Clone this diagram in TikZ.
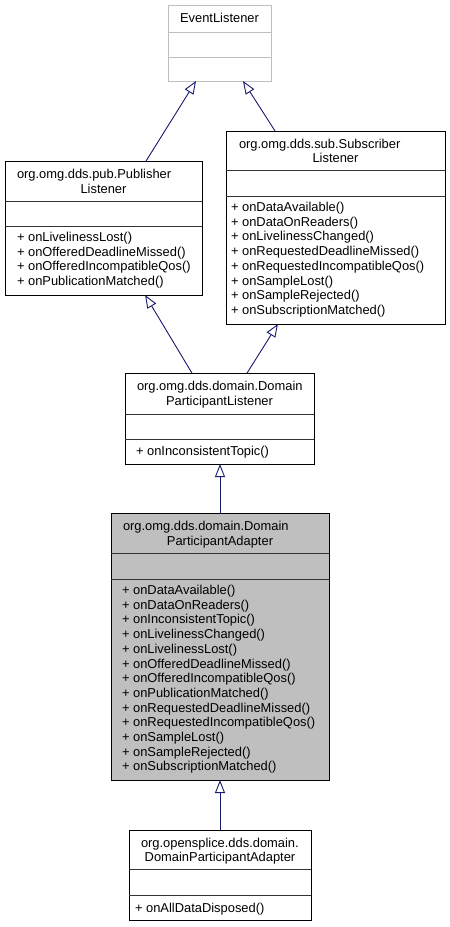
\documentclass[tikz,border=0pt]{standalone}
\usepackage{fontspec}
\setmainfont{Liberation Sans}
\usetikzlibrary{arrows.meta,calc}
\definecolor{edgeblue}{HTML}{191970}
\definecolor{greyseventyfive}{HTML}{BFBFBF}
\begin{document}
\begin{tikzpicture}[x=1pt,y=-1pt,
  box/.style={draw=black,line width=0.9pt,inner sep=0pt,outer sep=0pt,anchor=north west},
  extbox/.style={box,draw=greyseventyfive},
  sepline/.style={draw=black!80,line width=0.9pt},
  extsep/.style={draw=greyseventyfive,line width=0.9pt},
  ttxt/.style={font=\fontsize{12.9}{14.7}\selectfont,inner sep=0pt,outer sep=0pt},
  lt/.style={ttxt,anchor=base west},
  ct/.style={ttxt,anchor=base},
  inh/.style={draw=edgeblue,line width=0.9pt,-{Triangle[length=13pt,width=10pt,fill=white]}}]
\useasboundingbox (0,0) rectangle (450,927);
\fill[white] (0,0) rectangle (450,927);

% EventListener
\node[extbox,minimum width=103pt,minimum height=76pt] (el) at (168,5) {};
\draw[extsep] (168,32) -- (271,32);
\draw[extsep] (168,57) -- (271,57);
\node[ct] (elt) at (219.5,22) {EventListener};

% Publisher Listener
\node[box,minimum width=197pt,minimum height=134pt] (pub) at (5,161) {};
\draw[sepline] (5,201) -- (202,201);
\draw[sepline] (5,226) -- (202,226);
\node[lt] (pubt1) at (17,178) {org.omg.dds.pub.Publisher};
\node[ct] (pubt2) at (103.5,193) {Listener};
\foreach \t [count=\i from 0] in {onLivelinessLost(),onOfferedDeadlineMissed(),onOfferedIncompatibleQos(),onPublicationMatched()}
  \node[lt,name=pubm\i] at (17,241.5+14.7*\i) {+ \t};

% Subscriber Listener
\node[box,minimum width=219pt,minimum height=193pt] (sub) at (226,131) {};
\draw[sepline] (226,170) -- (445,170);
\draw[sepline] (226,196) -- (445,196);
\node[lt] (subt1) at (239,148) {org.omg.dds.sub.Subscriber};
\node[ct] (subt2) at (335.5,162.5) {Listener};
\foreach \t [count=\i from 0] in {onDataAvailable(),onDataOnReaders(),onLivelinessChanged(),onRequestedDeadlineMissed(),onRequestedIncompatibleQos(),onSampleLost(),onSampleRejected(),onSubscriptionMatched()}
  \node[lt,name=subm\i] at (231,211.5+14.7*\i) {+ \t};

% DomainParticipantListener
\node[box,minimum width=189pt,minimum height=91pt] (dpl) at (125,373) {};
\draw[sepline] (125,414) -- (314,414);
\draw[sepline] (125,439) -- (314,439);
\node[lt] (dplt1) at (137,390) {org.omg.dds.domain.Domain};
\node[ct] (dplt2) at (219.5,405) {ParticipantListener};
\node[lt] (dplm0) at (136,455) {+ onInconsistentTopic()};

% DomainParticipantAdapter (omg)
\node[box,fill=greyseventyfive,minimum width=218pt,minimum height=267pt] (adp) at (111,513) {};
\draw[sepline] (111,553) -- (329,553);
\draw[sepline] (111,579) -- (329,579);
\node[lt] (adpt1) at (123,530) {org.omg.dds.domain.Domain};
\node[ct] (adpt2) at (220,545) {ParticipantAdapter};
\foreach \t [count=\i from 0] in {onDataAvailable(),onDataOnReaders(),onInconsistentTopic(),onLivelinessChanged(),onLivelinessLost(),onOfferedDeadlineMissed(),onOfferedIncompatibleQos(),onPublicationMatched(),onRequestedDeadlineMissed(),onRequestedIncompatibleQos(),onSampleLost(),onSampleRejected(),onSubscriptionMatched()}
  \node[lt,name=adpm\i] at (122,594.5+14.7*\i) {+ \t};

% DomainParticipantAdapter (opensplice)
\node[box,minimum width=182pt,minimum height=90pt] (bot) at (129,830) {};
\draw[sepline] (129,869) -- (311,869);
\draw[sepline] (129,895) -- (311,895);
\node[lt] (bott1) at (141,847) {org.opensplice.dds.domain.};
\node[ct] (bott2) at (220,861.5) {DomainParticipantAdapter};
\node[lt] (botm0) at (135,912) {+ onAllDataDisposed()};

% inheritance connectors
\draw[inh] ($(pub.north west)!0.716!(pub.north east)$) -- ($(el.south west)!0.272!(el.south east)$);
\draw[inh] ($(sub.north west)!0.224!(sub.north east)$) -- ($(el.south west)!0.728!(el.south east)$);
\draw[inh] ($(dpl.north west)!0.354!(dpl.north east)$) -- ($(pub.south west)!0.711!(pub.south east)$);
\draw[inh] ($(dpl.north west)!0.646!(dpl.north east)$) -- ($(sub.south west)!0.237!(sub.south east)$);
\draw[inh] (adp.north) -- (adp.north |- dpl.south);
\draw[inh] (bot.north) -- (bot.north |- adp.south);
\end{tikzpicture}
\end{document}
